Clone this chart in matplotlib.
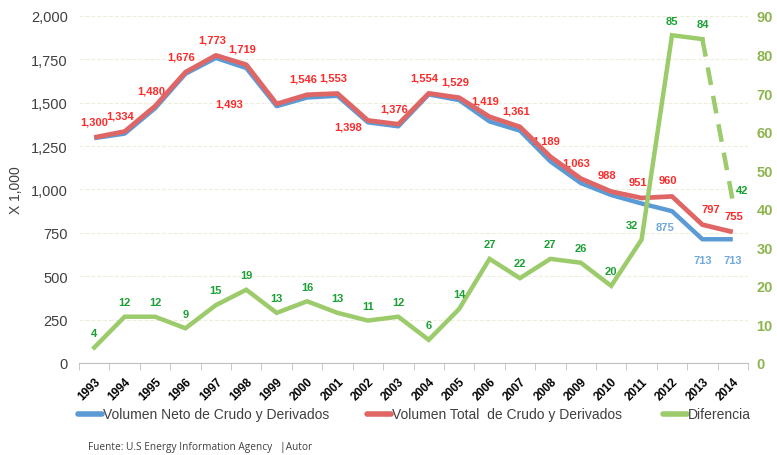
import matplotlib.pyplot as plt
import numpy as np

years = [str(y) for y in range(1993, 2015)]
total = [1300, 1334, 1480, 1676, 1773, 1719, 1493, 1546, 1553, 1398, 1376,
         1554, 1529, 1419, 1361, 1189, 1063, 988, 951, 960, 797, 755]
diferencia = [4, 12, 12, 9, 15, 19, 13, 16, 13, 11, 12,
              6, 14, 27, 22, 27, 26, 20, 32, 85, 84, 42]
neto = [1296, 1322, 1468, 1667, 1758, 1700, 1480, 1530, 1540, 1387, 1364,
        1548, 1515, 1392, 1339, 1162, 1037, 968, 919, 875, 713, 713]

plt.rcParams['font.family'] = ['Liberation Sans', 'DejaVu Sans']

c_blue = '#5B9BD5'
c_red = '#E06666'
c_green = '#9BCB6B'
x = np.arange(len(years))

W, H = 777, 456
fig = plt.figure(figsize=(W / 100, H / 100), dpi=100)
ax = fig.add_axes([0.1017, 0.2018, 0.861, 0.761])
ax2 = ax.twinx()

ax.plot(x, neto, color=c_blue, lw=3.2, solid_capstyle='butt', zorder=3)
ax.plot(x, total, color=c_red, lw=3.4, solid_capstyle='butt', zorder=4)
ax2.plot(x[:-1], diferencia[:-1], color=c_green, lw=3.2, solid_joinstyle='miter')
ax2.plot(x[-2:], diferencia[-2:], color=c_green, lw=3.2, dashes=(4, 2.5))

ax.set_xlim(-0.5, len(years) - 0.5)
ax.set_ylim(0, 2000)
ax2.set_ylim(0, 90)
ax.set_yticks(np.arange(0, 2001, 250))
ax.set_yticklabels([f'{v:,}' for v in range(0, 2001, 250)])
ax2.set_yticks(np.arange(0, 91, 10))

for a in (ax, ax2):
    for s in ['top', 'left', 'right']:
        a.spines[s].set_visible(False)
ax2.spines['bottom'].set_visible(False)
ax.spines['bottom'].set_color('#BFBFBF')

ax.grid(axis='y', color='#EEEEDC', ls='--', lw=0.8)
ax.set_axisbelow(True)
ax.tick_params(axis='y', length=0, labelsize=10.5, labelcolor='#404040', pad=8)
ax2.tick_params(axis='y', length=0, labelsize=10.5, labelcolor='#8DB54E', pad=6)
for t in ax2.get_yticklabels():
    t.set_fontweight('bold')

# category labels centred, ticks between categories
ax.set_xticks(x)
ax.set_xticklabels(years, rotation=45, ha='right', rotation_mode='anchor',
                   fontsize=8.5, fontweight='bold')
ax.tick_params(axis='x', length=0, pad=9)
ax.set_xticks(np.arange(-0.5, len(years), 1), minor=True)
ax.tick_params(axis='x', which='minor', length=5, color='#BFBFBF')

ax.set_ylabel('X 1,000', fontsize=10, color='#404040', labelpad=6)

# data labels
red_off = {6: (-34, -3), 9: (-14, -8), 0: (0, 8)}
for i, v in enumerate(total):
    dx, dy = red_off.get(i, (-3, 8))
    if i == 20:
        dx = 6
    if i == 21:
        dx = 1
    ax.annotate(f'{v:,}', (x[i], v), xytext=(dx, dy), textcoords='offset points',
                ha='center', va='bottom', fontsize=8, fontweight='bold', color='#FF2A2A')

blue_off = {19: (-5, -8), 20: (0, -11), 21: (0, -11)}
for i, (dx, dy) in blue_off.items():
    ax.annotate(f'{neto[i]:,}', (x[i], neto[i]), xytext=(dx, dy), textcoords='offset points',
                ha='center', va='top', fontsize=8, fontweight='bold', color='#6FA8DC')

for i, v in enumerate(diferencia):
    dx, dy = 0, 7
    if i == 18:
        dx = -7
    if i == 21:
        dx, dy = 7, 4
    ax2.annotate(str(v), (x[i], v), xytext=(dx, dy), textcoords='offset points',
                 ha='center', va='bottom', fontsize=8, fontweight='bold', color='#1AA033')

# legend drawn by hand to match the spacing of the original
labels = ['Volumen Neto de Crudo y Derivados', 'Volumen Total  de Crudo y Derivados', 'Diferencia']
colors = [c_blue, c_red, c_green]
starts = [78, 367, 663]
ly = 1 - 415 / H
for px, lab, col in zip(starts, labels, colors):
    fig.add_artist(plt.Line2D([px / W, (px + 24) / W], [ly, ly], color=col, lw=4,
                              solid_capstyle='round', transform=fig.transFigure))
    fig.text((px + 25) / W, ly, lab, fontsize=10, color='#404040', va='center', ha='left')

fig.text(88 / W, 1 - 448 / H, 'Fuente: U.S Energy Information Agency   |Autor', fontsize=7.3,
         color='#404040', family='Open Sans', va='center')

fig.savefig('out.png', dpi=100)
